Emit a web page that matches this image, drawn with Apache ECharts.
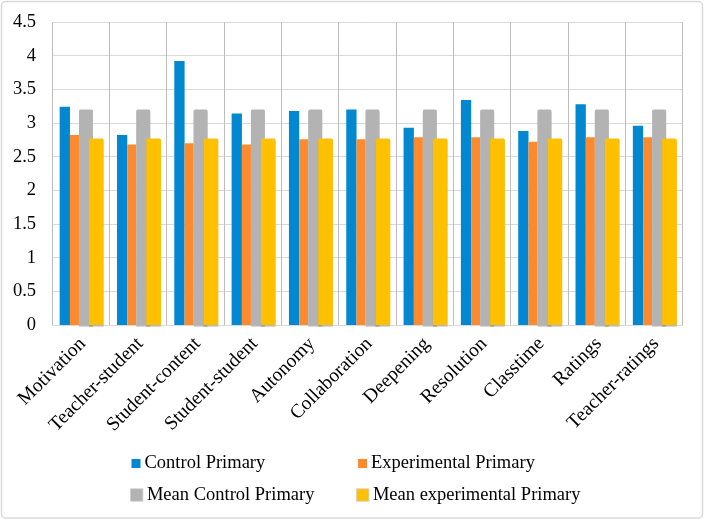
<!DOCTYPE html>
<html>
<head>
<meta charset="utf-8">
<script src="https://cdn.jsdelivr.net/npm/echarts@6/dist/echarts.min.js"></script>
<style>html,body{margin:0;padding:0;background:#fff;}#chart{width:705px;height:520px;}</style>
</head>
<body>
<div id="chart"></div>
<script>
var categories = ['Motivation','Teacher-student','Student-content','Student-student','Autonomy','Collaboration','Deepening','Resolution','Classtime','Ratings','Teacher-ratings'];
var controlPrimary = [3.24, 2.82, 3.92, 3.14, 3.18, 3.20, 2.93, 3.34, 2.88, 3.28, 2.96];
var experimentalPrimary = [2.82, 2.68, 2.70, 2.68, 2.76, 2.76, 2.79, 2.79, 2.72, 2.79, 2.79];
var meanControlPrimary = [3.20, 3.20, 3.20, 3.20, 3.20, 3.20, 3.20, 3.20, 3.20, 3.20, 3.20];
var meanExperimentalPrimary = [2.77, 2.77, 2.77, 2.77, 2.77, 2.77, 2.77, 2.77, 2.77, 2.77, 2.77];
var yTicks = {min: 0, max: 4.5, interval: 0.5};

var FONT = '"Liberation Serif", "Times New Roman", serif';
var chart = echarts.init(document.getElementById('chart'));
var empty = categories.map(function(){ return null; });

function legendItem(name, left, top, size, border) {
  return {
    data: [{name: name, icon: 'rect'}],
    left: left, top: top, padding: 0,
    itemWidth: size, itemHeight: size, itemGap: 0,
    selectedMode: false,
    textStyle: {fontFamily: FONT, fontSize: 18.5, color: '#000', lineHeight: 20, padding: [0,0,0,-1]},
    itemStyle: border ? {borderColor: '#d0d0d0', borderWidth: 0.8} : {}
  };
}

chart.setOption({
  animation: false,
  backgroundColor: '#fff',
  graphic: [{
    type: 'rect', shape: {x: 1.5, y: 1.5, width: 701, height: 516.5, r: 4},
    style: {fill: 'none', stroke: '#d9d9d9', lineWidth: 1.5}, silent: true, z: -10
  }],
  grid: {left: 52, right: 22.5, top: 22, bottom: 195, containLabel: false},
  legend: [
    legendItem('Control Primary', 131.5, 453.5, 9, false),
    legendItem('Experimental Primary', 358, 453.5, 9, false),
    legendItem('Mean Control Primary', 130, 485, 12.5, true),
    legendItem('Mean experimental Primary', 356, 485, 12.5, true)
  ],
  xAxis: [{
    type: 'category', data: categories, position: 'bottom',
    axisLine: {show: true, lineStyle: {color: '#d9d9d9', width: 1}},
    axisTick: {show: false},
    splitLine: {show: true, lineStyle: {color: '#bdbdbd', width: 1}},
    axisLabel: {rotate: 45, interval: 0, margin: 18, padding: [0, -3, 0, 0], fontFamily: FONT, fontSize: 19.5, color: '#000'}
  }, {
    type: 'category', data: categories, show: false, position: 'bottom'
  }],
  yAxis: {
    type: 'value', min: yTicks.min, max: yTicks.max, interval: yTicks.interval,
    axisLine: {show: false}, axisTick: {show: false},
    splitLine: {lineStyle: {color: '#d9d9d9', width: 1}},
    axisLabel: {margin: 16, fontFamily: FONT, fontSize: 18.5, color: '#000'}
  },
  series: [
    {name: 'Control Primary', type: 'bar', xAxisIndex: 0, data: controlPrimary, barWidth: 10.3, barGap: 0,
     itemStyle: {color: '#0288d1'}, z: 2},
    {name: 'Experimental Primary', type: 'bar', xAxisIndex: 0, data: experimentalPrimary, barWidth: 9, barGap: 0,
     itemStyle: {color: '#fd8b2d'}, z: 2},
    {name: 'Mean Control Primary', type: 'bar', xAxisIndex: 0, data: meanControlPrimary, barWidth: 14, barGap: 0,
     itemStyle: {color: '#b3b3b3', borderRadius: [1.5,1.5,0,0], shadowColor: 'rgba(0,0,0,0.15)', shadowOffsetY: 2, shadowBlur: 0}, z: 3},
    {name: '_pad0', type: 'bar', xAxisIndex: 0, data: empty, barWidth: 8.7, barGap: 0, silent: true},
    {name: '_pad1', type: 'bar', xAxisIndex: 1, data: empty, barWidth: 31.3, barGap: 0, silent: true},
    {name: 'Mean experimental Primary', type: 'bar', xAxisIndex: 1, data: meanExperimentalPrimary, barWidth: 14.7, barGap: 0,
     itemStyle: {color: '#ffc000', borderRadius: [1.5,1.5,0,0], shadowColor: 'rgba(0,0,0,0.15)', shadowOffsetY: 2, shadowBlur: 0}, z: 4}
  ]
});
</script>
</body>
</html>
